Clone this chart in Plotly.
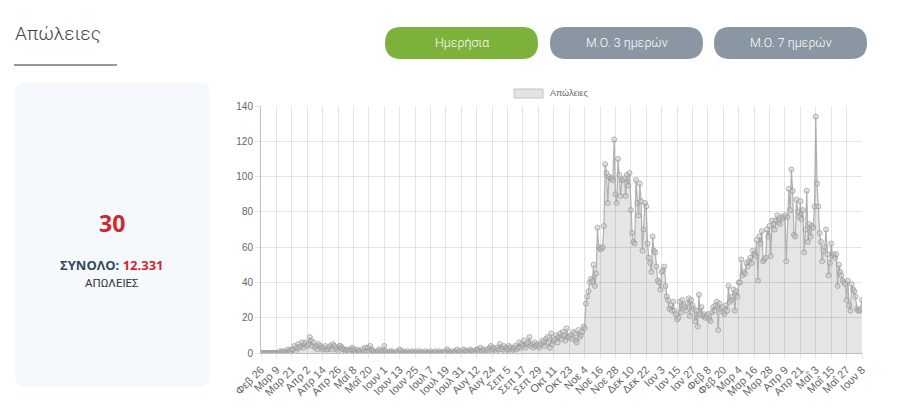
import pandas as pd
import plotly.graph_objects as go

# ---------------- data ----------------
start_date = "2020-02-26"
end_date = "2021-06-08"

deaths_2020_feb_mar = [0, 0, 0, 0,
                       0, 0, 0, 0, 0, 0, 0, 0, 0, 0, 0,
                       1, 0, 1, 0, 1, 0, 2, 1, 1, 2,
                       2, 4, 1, 3, 5, 3, 4, 6, 3, 5]
deaths_2020_apr = [6, 4, 5, 9, 7, 4, 6, 3, 4, 2, 5, 4, 3, 2, 3, 4, 2, 2, 3, 4,
                   2, 5, 4, 3, 2, 1, 4, 4, 3, 2]
deaths_2020_may = [2, 1, 2, 1, 1, 2, 3, 2, 1, 0, 2, 1, 1, 0, 2, 1, 3, 1, 3, 1,
                   4, 2, 1, 1, 0, 0, 1, 2, 1, 0, 1]
deaths_2020_jun = [4, 1, 0, 0, 1, 0, 1, 0, 0, 0, 1, 0, 2, 1, 0, 1, 0, 0, 1, 0,
                   0, 0, 1, 0, 0, 1, 0, 0, 1, 0]
deaths_2020_jul = [0, 0, 1, 0, 0, 0, 1, 0, 0, 0, 1, 0, 0, 1, 0, 0, 0, 1, 0, 2,
                   1, 0, 0, 1, 0, 1, 0, 2, 1, 0, 1]
deaths_2020_aug = [0, 2, 1, 1, 0, 1, 2, 1, 1, 0, 1, 2, 2, 1, 3, 1, 2, 1, 0, 2,
                   1, 3, 4, 2, 3, 2, 1, 3, 2, 5, 3]
deaths_2020_sep = [2, 4, 1, 3, 2, 4, 3, 1, 2, 3, 4, 2, 3, 6, 3, 5, 4, 7, 3, 5,
                   6, 9, 4, 5, 3, 6, 4, 5, 4, 3]
deaths_2020_oct = [5, 7, 6, 4, 8, 9, 6, 3, 11, 5, 7, 8, 10, 6, 9, 11, 8, 12, 10, 7,
                   14, 9, 9, 10, 8, 12, 11, 7, 6, 13, 9]
deaths_2020_nov = [10, 12, 15, 14, 28, 32, 35, 40, 42, 41, 50, 38, 45, 71, 60, 59, 59, 60, 72, 107,
                   102, 85, 100, 99, 99, 98, 121, 90, 85, 110]
deaths_2020_dec = [101, 89, 98, 98, 99, 89, 101, 95, 102, 81, 68, 63, 62, 98, 85, 78, 96, 86, 58, 70,
                   85, 83, 62, 54, 51, 46, 66, 58, 57, 49, 41]
deaths_2021_jan = [40, 36, 46, 47, 49, 38, 32, 30, 25, 27, 24, 29, 24, 22, 19,
                   20, 29, 23, 30, 27, 26, 24, 28, 31, 21, 30, 27, 25, 18, 24, 15]
deaths_2021_feb = [33, 22, 26, 21, 22, 20, 21, 22, 19, 18, 23, 26, 24, 27, 29, 13, 28, 25, 26, 23,
                   22, 27, 24, 38, 29, 30, 32, 36]
deaths_2021_mar = [24, 35, 32, 40, 40, 53, 44, 46, 45, 51, 49, 52, 54, 51, 58, 56, 55, 64, 41, 66,
                   62, 69, 52, 53, 54, 70, 66, 72, 55, 75, 73]
deaths_2021_apr = [70, 75, 78, 74, 73, 77, 76, 77, 78, 52, 77, 93, 81, 104, 92, 67, 66, 87, 80, 77,
                   86, 76, 81, 57, 70, 92, 63, 73, 66, 72]
deaths_2021_may = [71, 83, 134, 96, 83, 68, 63, 52, 58, 60, 70, 56, 44, 51, 62, 55, 56, 54, 56, 38,
                   50, 46, 44, 41, 40, 39, 30, 41, 27, 24, 39]
deaths_2021_jun = [36, 35, 32, 25, 24, 24, 25, 30]

tick_labels = ["Φεβ 26", "Μαρ 9", "Μαρ 21", "Απρ 2", "Απρ 14", "Απρ 26", "Μαΐ 8", "Μαΐ 20",
               "Ιουν 1", "Ιουν 13", "Ιουν 25", "Ιουλ 7", "Ιουλ 19", "Ιουλ 31", "Αυγ 12", "Αυγ 24",
               "Σεπ 5", "Σεπ 17", "Σεπ 29", "Οκτ 11", "Οκτ 23", "Νοε 4", "Νοε 16", "Νοε 28",
               "Δεκ 10", "Δεκ 22", "Ιαν 3", "Ιαν 15", "Ιαν 27", "Φεβ 8", "Φεβ 20", "Μαρ 4",
               "Μαρ 16", "Μαρ 28", "Απρ 9", "Απρ 21", "Μαΐ 3", "Μαΐ 15", "Μαΐ 27", "Ιουν 8"]
tick_step_days = 12

y_ticks = [0, 20, 40, 60, 80, 100, 120, 140]

series_name = "Απώλειες"
today_value = "30"
total_value = "12.331"

deaths = (deaths_2020_feb_mar + deaths_2020_apr + deaths_2020_may + deaths_2020_jun +
          deaths_2020_jul + deaths_2020_aug + deaths_2020_sep + deaths_2020_oct +
          deaths_2020_nov + deaths_2020_dec + deaths_2021_jan + deaths_2021_feb +
          deaths_2021_mar + deaths_2021_apr + deaths_2021_may + deaths_2021_jun)
dates = pd.date_range(start_date, end_date, freq="D")
n = min(len(dates), len(deaths))
dates = dates[:n]
deaths = deaths[:n]
tick_vals = list(dates[::tick_step_days])

# ---------------- layout helpers ----------------
W, H = 900, 414
L, R, T, B = 261, 38, 106, 61
PW, PH = W - L - R, H - T - B


def fx(px):
    return (px - L) / PW


def fy(py):
    return (H - B - py) / PH


def rrect_path(x0, y0, x1, y1, r):
    pts = [
        ("M", (x0 + r, y0)),
        ("L", (x1 - r, y0)),
        ("Q", (x1, y0), (x1, y0 + r)),
        ("L", (x1, y1 - r)),
        ("Q", (x1, y1), (x1 - r, y1)),
        ("L", (x0 + r, y1)),
        ("Q", (x0, y1), (x0, y1 - r)),
        ("L", (x0, y0 + r)),
        ("Q", (x0, y0), (x0 + r, y0)),
    ]
    s = ""
    for p in pts:
        cmd = p[0]
        coords = " ".join(f"{fx(a):.5f},{fy(b):.5f}" for a, b in p[1:])
        s += f"{cmd}{coords} "
    return s + "Z"


fig = go.Figure()
fig.add_trace(go.Scatter(
    x=dates, y=deaths, mode="lines+markers", name=series_name,
    line=dict(color="rgba(160,160,160,0.8)", width=1.2),
    marker=dict(size=5, color="rgba(200,200,200,0.45)",
                line=dict(color="rgba(150,150,150,0.7)", width=1)),
    fill="tozeroy", fillcolor="rgba(0,0,0,0.1)",
    showlegend=False, hoverinfo="x+y",
))

shapes = []
annotations = []

# left card
shapes.append(dict(type="path", xref="paper", yref="paper",
                   path=rrect_path(15, 82, 210, 387, 10),
                   fillcolor="#f5f8fc", line=dict(width=0), layer="below"))
# title underline
shapes.append(dict(type="line", xref="paper", yref="paper",
                   x0=fx(14), x1=fx(117), y0=fy(65), y1=fy(65),
                   line=dict(color="#333333", width=1)))
# buttons
buttons = [("Ημερήσια", 385, 538, "#7cb23a"),
           ("Μ.Ο. 3 ημερών", 550, 703, "#8b96a3"),
           ("Μ.Ο. 7 ημερών", 714, 867, "#8b96a3")]
for label, bx0, bx1, col in buttons:
    shapes.append(dict(type="path", xref="paper", yref="paper",
                       path=rrect_path(bx0, 27, bx1, 59, 16),
                       fillcolor=col, line=dict(width=0)))
    annotations.append(dict(xref="paper", yref="paper", x=fx((bx0 + bx1) / 2), y=fy(43),
                            text=label, showarrow=False, xanchor="center", yanchor="middle",
                            font=dict(family="Roboto", size=12.5, color="#ffffff", weight=300)))
# legend
shapes.append(dict(type="rect", xref="paper", yref="paper",
                   x0=fx(514), x1=fx(543), y0=fy(89), y1=fy(98),
                   fillcolor="#e3e3e3", line=dict(color="#c4c4c4", width=1)))
annotations.append(dict(xref="paper", yref="paper", x=fx(548), y=fy(93.5),
                        text=series_name, showarrow=False, xanchor="left", yanchor="middle",
                        font=dict(family="Liberation Sans", size=9, color="#666666")))
# title
annotations.append(dict(xref="paper", yref="paper", x=fx(13), y=fy(33),
                        text="Απώλειες", showarrow=False, xanchor="left", yanchor="middle",
                        font=dict(family="Roboto", size=19, color="#444444", weight=300)))
# card texts
annotations.append(dict(xref="paper", yref="paper", x=fx(112), y=fy(223),
                        text=f"<b>{today_value}</b>", showarrow=False, xanchor="center", yanchor="middle",
                        font=dict(family="Open Sans", size=23, color="#d0282e")))
annotations.append(dict(xref="paper", yref="paper", x=fx(112), y=fy(265),
                        text=f"<b><span style='color:#34495e'>ΣΥΝΟΛΟ:</span> "
                             f"<span style='color:#d0282e'>{total_value}</span></b>",
                        showarrow=False, xanchor="center", yanchor="middle",
                        font=dict(family="Open Sans", size=13, color="#34495e")))
annotations.append(dict(xref="paper", yref="paper", x=fx(112), y=fy(283),
                        text="ΑΠΩΛΕΙΕΣ", showarrow=False, xanchor="center", yanchor="middle",
                        font=dict(family="Roboto", size=11.5, color="#333333")))

fig.update_layout(
    width=W, height=H,
    margin=dict(l=L, r=R, t=T, b=B, pad=0),
    paper_bgcolor="#ffffff", plot_bgcolor="#ffffff",
    shapes=shapes, annotations=annotations,
    showlegend=False,
    font=dict(family="Liberation Sans", color="#666666"),
)
fig.update_xaxes(
    type="date", range=[dates[0], dates[-1]],
    tickmode="array", tickvals=tick_vals, ticktext=tick_labels[:len(tick_vals)],
    tickangle=-45, tickfont=dict(size=11, color="#666666"),
    showgrid=True, gridcolor="rgba(0,0,0,0.1)", gridwidth=1,
    showline=True, linecolor="rgba(0,0,0,0.25)", linewidth=1,
    ticks="outside", ticklen=5, tickcolor="rgba(0,0,0,0.1)",
    zeroline=False,
)
fig.update_yaxes(
    range=[0, 140], tickmode="array", tickvals=y_ticks,
    tickfont=dict(size=10, color="#666666"),
    showgrid=True, gridcolor="rgba(0,0,0,0.1)", gridwidth=1,
    showline=True, linecolor="rgba(0,0,0,0.25)", linewidth=1,
    ticks="outside", ticklen=5, tickcolor="rgba(0,0,0,0.1)",
    zeroline=False,
)

fig.write_html("out.html")
